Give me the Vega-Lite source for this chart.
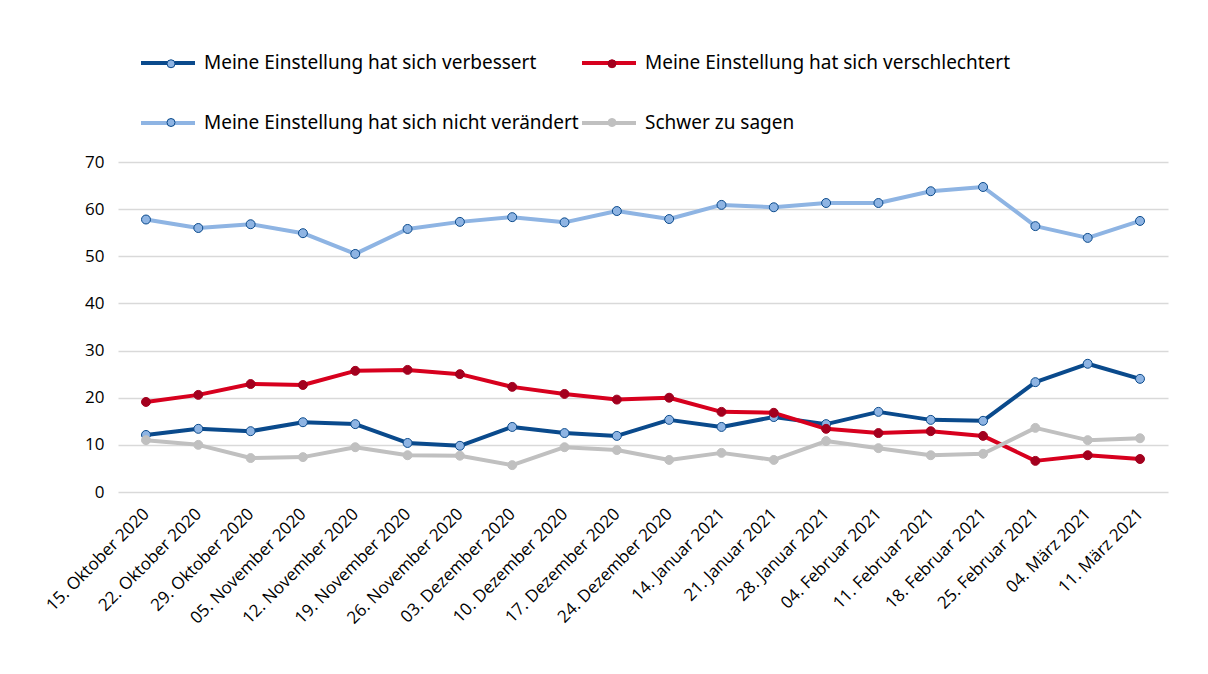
{
  "$schema": "https://vega.github.io/schema/vega-lite/v6.json",
  "width": 1050,
  "height": 330,
  "autosize": {"type": "none"},
  "padding": {"left": 118, "top": 162, "right": 40, "bottom": 182},
  "background": "white",
  "datasets": {
    "rows": [
      {"date": "15. Oktober 2020", "s": "Meine Einstellung hat sich verbessert", "v": 12.1},
      {"date": "22. Oktober 2020", "s": "Meine Einstellung hat sich verbessert", "v": 13.4},
      {"date": "29. Oktober 2020", "s": "Meine Einstellung hat sich verbessert", "v": 12.9},
      {"date": "05. November 2020", "s": "Meine Einstellung hat sich verbessert", "v": 14.8},
      {"date": "12. November 2020", "s": "Meine Einstellung hat sich verbessert", "v": 14.4},
      {"date": "19. November 2020", "s": "Meine Einstellung hat sich verbessert", "v": 10.4},
      {"date": "26. November 2020", "s": "Meine Einstellung hat sich verbessert", "v": 9.8},
      {"date": "03. Dezember 2020", "s": "Meine Einstellung hat sich verbessert", "v": 13.8},
      {"date": "10. Dezember 2020", "s": "Meine Einstellung hat sich verbessert", "v": 12.5},
      {"date": "17. Dezember 2020", "s": "Meine Einstellung hat sich verbessert", "v": 11.9},
      {"date": "24. Dezember 2020", "s": "Meine Einstellung hat sich verbessert", "v": 15.3},
      {"date": "14. Januar 2021", "s": "Meine Einstellung hat sich verbessert", "v": 13.8},
      {"date": "21. Januar 2021", "s": "Meine Einstellung hat sich verbessert", "v": 15.9},
      {"date": "28. Januar 2021", "s": "Meine Einstellung hat sich verbessert", "v": 14.4},
      {"date": "04. Februar 2021", "s": "Meine Einstellung hat sich verbessert", "v": 17.0},
      {"date": "11. Februar 2021", "s": "Meine Einstellung hat sich verbessert", "v": 15.3},
      {"date": "18. Februar 2021", "s": "Meine Einstellung hat sich verbessert", "v": 15.1},
      {"date": "25. Februar 2021", "s": "Meine Einstellung hat sich verbessert", "v": 23.3},
      {"date": "04. März 2021", "s": "Meine Einstellung hat sich verbessert", "v": 27.2},
      {"date": "11. März 2021", "s": "Meine Einstellung hat sich verbessert", "v": 24.0},

      {"date": "15. Oktober 2020", "s": "Meine Einstellung hat sich verschlechtert", "v": 19.1},
      {"date": "22. Oktober 2020", "s": "Meine Einstellung hat sich verschlechtert", "v": 20.6},
      {"date": "29. Oktober 2020", "s": "Meine Einstellung hat sich verschlechtert", "v": 22.9},
      {"date": "05. November 2020", "s": "Meine Einstellung hat sich verschlechtert", "v": 22.7},
      {"date": "12. November 2020", "s": "Meine Einstellung hat sich verschlechtert", "v": 25.7},
      {"date": "19. November 2020", "s": "Meine Einstellung hat sich verschlechtert", "v": 25.9},
      {"date": "26. November 2020", "s": "Meine Einstellung hat sich verschlechtert", "v": 25.0},
      {"date": "03. Dezember 2020", "s": "Meine Einstellung hat sich verschlechtert", "v": 22.3},
      {"date": "10. Dezember 2020", "s": "Meine Einstellung hat sich verschlechtert", "v": 20.8},
      {"date": "17. Dezember 2020", "s": "Meine Einstellung hat sich verschlechtert", "v": 19.6},
      {"date": "24. Dezember 2020", "s": "Meine Einstellung hat sich verschlechtert", "v": 20.0},
      {"date": "14. Januar 2021", "s": "Meine Einstellung hat sich verschlechtert", "v": 17.0},
      {"date": "21. Januar 2021", "s": "Meine Einstellung hat sich verschlechtert", "v": 16.8},
      {"date": "28. Januar 2021", "s": "Meine Einstellung hat sich verschlechtert", "v": 13.4},
      {"date": "04. Februar 2021", "s": "Meine Einstellung hat sich verschlechtert", "v": 12.5},
      {"date": "11. Februar 2021", "s": "Meine Einstellung hat sich verschlechtert", "v": 12.9},
      {"date": "18. Februar 2021", "s": "Meine Einstellung hat sich verschlechtert", "v": 11.9},
      {"date": "25. Februar 2021", "s": "Meine Einstellung hat sich verschlechtert", "v": 6.6},
      {"date": "04. März 2021", "s": "Meine Einstellung hat sich verschlechtert", "v": 7.8},
      {"date": "11. März 2021", "s": "Meine Einstellung hat sich verschlechtert", "v": 7.0},

      {"date": "15. Oktober 2020", "s": "Meine Einstellung hat sich nicht verändert", "v": 57.8},
      {"date": "22. Oktober 2020", "s": "Meine Einstellung hat sich nicht verändert", "v": 56.0},
      {"date": "29. Oktober 2020", "s": "Meine Einstellung hat sich nicht verändert", "v": 56.8},
      {"date": "05. November 2020", "s": "Meine Einstellung hat sich nicht verändert", "v": 54.9},
      {"date": "12. November 2020", "s": "Meine Einstellung hat sich nicht verändert", "v": 50.5},
      {"date": "19. November 2020", "s": "Meine Einstellung hat sich nicht verändert", "v": 55.8},
      {"date": "26. November 2020", "s": "Meine Einstellung hat sich nicht verändert", "v": 57.3},
      {"date": "03. Dezember 2020", "s": "Meine Einstellung hat sich nicht verändert", "v": 58.3},
      {"date": "10. Dezember 2020", "s": "Meine Einstellung hat sich nicht verändert", "v": 57.2},
      {"date": "17. Dezember 2020", "s": "Meine Einstellung hat sich nicht verändert", "v": 59.6},
      {"date": "24. Dezember 2020", "s": "Meine Einstellung hat sich nicht verändert", "v": 57.9},
      {"date": "14. Januar 2021", "s": "Meine Einstellung hat sich nicht verändert", "v": 60.9},
      {"date": "21. Januar 2021", "s": "Meine Einstellung hat sich nicht verändert", "v": 60.4},
      {"date": "28. Januar 2021", "s": "Meine Einstellung hat sich nicht verändert", "v": 61.3},
      {"date": "04. Februar 2021", "s": "Meine Einstellung hat sich nicht verändert", "v": 61.3},
      {"date": "11. Februar 2021", "s": "Meine Einstellung hat sich nicht verändert", "v": 63.8},
      {"date": "18. Februar 2021", "s": "Meine Einstellung hat sich nicht verändert", "v": 64.7},
      {"date": "25. Februar 2021", "s": "Meine Einstellung hat sich nicht verändert", "v": 56.4},
      {"date": "04. März 2021", "s": "Meine Einstellung hat sich nicht verändert", "v": 53.9},
      {"date": "11. März 2021", "s": "Meine Einstellung hat sich nicht verändert", "v": 57.5},

      {"date": "15. Oktober 2020", "s": "Schwer zu sagen", "v": 11.0},
      {"date": "22. Oktober 2020", "s": "Schwer zu sagen", "v": 10.0},
      {"date": "29. Oktober 2020", "s": "Schwer zu sagen", "v": 7.2},
      {"date": "05. November 2020", "s": "Schwer zu sagen", "v": 7.4},
      {"date": "12. November 2020", "s": "Schwer zu sagen", "v": 9.5},
      {"date": "19. November 2020", "s": "Schwer zu sagen", "v": 7.8},
      {"date": "26. November 2020", "s": "Schwer zu sagen", "v": 7.7},
      {"date": "03. Dezember 2020", "s": "Schwer zu sagen", "v": 5.7},
      {"date": "10. Dezember 2020", "s": "Schwer zu sagen", "v": 9.5},
      {"date": "17. Dezember 2020", "s": "Schwer zu sagen", "v": 8.9},
      {"date": "24. Dezember 2020", "s": "Schwer zu sagen", "v": 6.8},
      {"date": "14. Januar 2021", "s": "Schwer zu sagen", "v": 8.3},
      {"date": "21. Januar 2021", "s": "Schwer zu sagen", "v": 6.8},
      {"date": "28. Januar 2021", "s": "Schwer zu sagen", "v": 10.8},
      {"date": "04. Februar 2021", "s": "Schwer zu sagen", "v": 9.3},
      {"date": "11. Februar 2021", "s": "Schwer zu sagen", "v": 7.8},
      {"date": "18. Februar 2021", "s": "Schwer zu sagen", "v": 8.1},
      {"date": "25. Februar 2021", "s": "Schwer zu sagen", "v": 13.6},
      {"date": "04. März 2021", "s": "Schwer zu sagen", "v": 11.0},
      {"date": "11. März 2021", "s": "Schwer zu sagen", "v": 11.4}
    ]
  },
  "data": {"name": "rows"},
  "encoding": {
    "x": {
      "field": "date", "type": "ordinal", "sort": null,
      "scale": {"type": "point", "padding": 0.535},
      "axis": {
        "title": null, "labelAngle": -45, "labelAlign": "right", "labelBaseline": "middle",
        "labelPadding": 19, "ticks": false, "domain": false, "grid": false,
        "labelFont": "Open Sans", "labelFontSize": 17, "labelColor": "#000000"
      }
    },
    "y": {
      "field": "v", "type": "quantitative",
      "scale": {"domain": [0, 70], "nice": false},
      "axis": {
        "title": null, "values": [0, 10, 20, 30, 40, 50, 60, 70],
        "ticks": false, "domain": false, "labelPadding": 14,
        "gridColor": "#D9D9D9", "gridWidth": 1.5,
        "labelFont": "Open Sans", "labelFontSize": 17, "labelColor": "#000000"
      }
    }
  },
  "layer": [
    {
      "mark": {"type": "line", "strokeWidth": 4, "strokeJoin": "round"},
      "encoding": {
        "color": {
          "field": "s", "type": "nominal",
          "scale": {
            "domain": ["Meine Einstellung hat sich verbessert", "Meine Einstellung hat sich nicht verändert", "Meine Einstellung hat sich verschlechtert", "Schwer zu sagen"],
            "range": ["#0A4A8C", "#8EB4E3", "#D7001E", "#C0C0C0"]
          },
          "legend": {
            "title": null, "orient": "none", "legendX": 21, "legendY": -128,
            "columns": 2, "columnPadding": -5, "rowPadding": 21,
            "symbolType": "stroke", "symbolSize": 2916, "symbolStrokeWidth": 4,
            "labelOffset": 7, "labelFont": "Noto Sans", "labelFontSize": 19, "labelColor": "#000000",
            "labelLimit": 600
          }
        }
      }
    },
    {
      "mark": {"type": "point", "filled": true, "size": 80, "strokeWidth": 1, "opacity": 1},
      "encoding": {
        "fill": {
          "field": "s", "type": "nominal",
          "scale": {
            "domain": ["Meine Einstellung hat sich verbessert", "Meine Einstellung hat sich nicht verändert", "Meine Einstellung hat sich verschlechtert", "Schwer zu sagen"],
            "range": ["#8EB4E3", "#8EB4E3", "#A3001E", "#C0C0C0"]
          },
          "legend": {
            "title": null, "orient": "none", "legendX": 21, "legendY": -108,
            "columns": 2, "columnPadding": -5, "rowPadding": 39,
            "symbolType": "circle", "symbolSize": 64, "symbolStrokeWidth": 1, "symbolOffset": 22.5,
            "labelOffset": 399, "labelExpr": "''", "labelFont": "Noto Sans", "labelFontSize": 19,
            "labelLimit": 600
          }
        },
        "stroke": {
          "field": "s", "type": "nominal",
          "scale": {
            "domain": ["Meine Einstellung hat sich verbessert", "Meine Einstellung hat sich nicht verändert", "Meine Einstellung hat sich verschlechtert", "Schwer zu sagen"],
            "range": ["#0A4A8C", "#0A4A8C", "#A3001E", "#C0C0C0"]
          },
          "legend": {
            "title": null, "orient": "none", "legendX": 21, "legendY": -108,
            "columns": 2, "columnPadding": -5, "rowPadding": 39,
            "symbolType": "circle", "symbolSize": 64, "symbolStrokeWidth": 1, "symbolOffset": 22.5,
            "labelOffset": 399, "labelExpr": "''", "labelFont": "Noto Sans", "labelFontSize": 19,
            "labelLimit": 600
          }
        }
      }
    }
  ],
  "resolve": {"scale": {"color": "independent", "fill": "independent", "stroke": "independent"}},
  "config": {"view": {"stroke": null}}
}
